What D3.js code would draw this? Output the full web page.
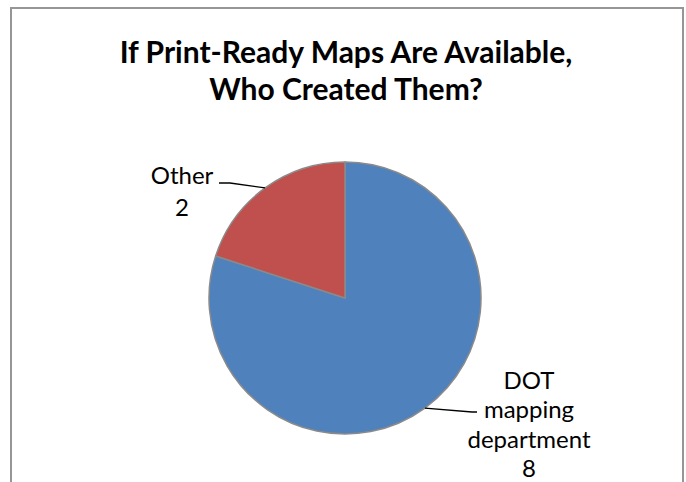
<!DOCTYPE html>
<html>
<head>
<meta charset="utf-8">
<script src="https://cdn.jsdelivr.net/npm/d3@7/dist/d3.min.js"></script>
<style>
  html, body { margin: 0; padding: 0; background: #fff; }
  svg { display: block; }
  text { font-family: "Lato", "Open Sans", sans-serif; fill: #000; }
</style>
</head>
<body>
<svg id="chart" width="686" height="482"></svg>
<script>
// Survey answers
const categories = ["DOT mapping department", "Other"];
const values = [8, 2];
const labelLines = [["DOT", "mapping", "department", "8"], ["Other", "2"]];
const titleLines = ["If Print-Ready Maps Are Available,", "Who Created Them?"];
const colors = ["#4F81BD", "#C0504D"];

const width = 686, height = 482;
const svg = d3.select("#chart");

// Outer frame (bottom edge runs past the page)
svg.append("rect")
  .attr("x", 11).attr("y", 8)
  .attr("width", 672).attr("height", 500)
  .attr("fill", "#fff")
  .attr("stroke", "#969696")
  .attr("stroke-width", 2);

// Title
const title = svg.append("text")
  .attr("text-anchor", "middle")
  .attr("font-weight", "bold")
  .attr("font-size", 30);
titleLines.forEach((t, i) => {
  title.append("tspan")
    .attr("x", 346)
    .attr("y", 63 + i * 37)
    .text(t);
});

// Pie
const cx = 345, cy = 298, r = 136;
const g = svg.append("g").attr("transform", `translate(${cx},${cy})`);

const data = categories.map((c, i) => ({ name: c, value: values[i], lines: labelLines[i], color: colors[i] }));
const pie = d3.pie().sort(null).value(d => d.value).startAngle(0).endAngle(2 * Math.PI);
const arc = d3.arc().innerRadius(0).outerRadius(r);
const arcs = pie(data);

g.selectAll("path.slice")
  .data(arcs)
  .join("path")
  .attr("class", "slice")
  .attr("d", arc)
  .attr("fill", d => d.data.color)
  .attr("stroke", "#8a8a8a")
  .attr("stroke-width", 1.5)
  .attr("stroke-linejoin", "round");

// Label placement: text anchor point and leader elbow, relative to the pie centre
const labelLayout = {
  "DOT mapping department": { x: 184, y: 91, lineH: 29.3, elbow: [127, 114], end: [132, 114] },
  "Other": { x: -163, y: -114, lineH: 32, elbow: [-115, -115], end: [-126, -115] }
};

arcs.forEach(a => {
  const L = labelLayout[a.data.name];
  const mid = (a.startAngle + a.endAngle) / 2;
  const px = r * Math.sin(mid), py = -r * Math.cos(mid);

  g.append("path")
    .attr("d", d3.line()([[px, py], L.elbow, L.end]))
    .attr("fill", "none")
    .attr("stroke", "#000")
    .attr("stroke-width", 1.3);

  const t = g.append("text")
    .attr("text-anchor", "middle")
    .attr("font-size", 24);
  a.data.lines.forEach((ln, i) => {
    t.append("tspan")
      .attr("x", L.x)
      .attr("y", L.y + i * L.lineH)
      .text(ln);
  });
});
</script>
</body>
</html>
